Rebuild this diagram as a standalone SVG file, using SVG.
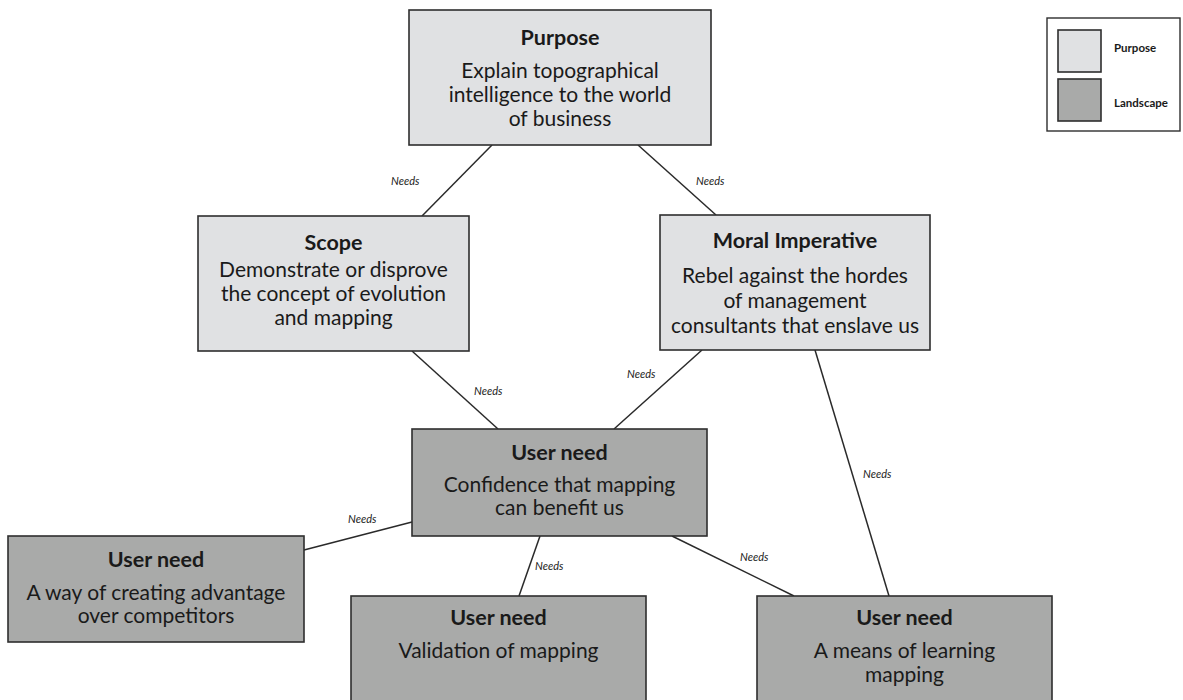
<svg xmlns="http://www.w3.org/2000/svg" width="1183" height="700" viewBox="0 0 1183 700">
<style>
.light{fill:#e0e1e3;stroke:#2e2e2e;stroke-width:1.6}
.dark{fill:#a9aaa9;stroke:#2e2e2e;stroke-width:1.6}
.t{font-family:Lato,"Liberation Sans",sans-serif;font-weight:bold;font-size:21.5px;fill:#1a1a1a;text-anchor:middle}
.b{font-family:Lato,"Liberation Sans",sans-serif;font-size:21px;fill:#1a1a1a;text-anchor:middle}
.n{font-family:Lato,"Liberation Sans",sans-serif;font-style:italic;font-size:11px;fill:#1a1a1a}
.lg{font-family:Lato,"Liberation Sans",sans-serif;font-weight:bold;font-size:11.5px;fill:#1a1a1a}
line{stroke:#2a2a2a;stroke-width:1.5}
</style>
<rect width="1183" height="700" fill="#ffffff"/>
<g id="connectors">
<line x1="492" y1="145" x2="422" y2="216"/>
<line x1="638" y1="145" x2="716" y2="215"/>
<line x1="412" y1="351" x2="498" y2="429"/>
<line x1="702" y1="350" x2="614" y2="429"/>
<line x1="815" y1="350" x2="889" y2="596"/>
<line x1="412" y1="522" x2="304" y2="550"/>
<line x1="540" y1="536" x2="519" y2="596"/>
<line x1="672" y1="536" x2="794" y2="596"/>
<text class="n" x="391" y="185">Needs</text>
<text class="n" x="696" y="185">Needs</text>
<text class="n" x="474" y="395">Needs</text>
<text class="n" x="627" y="378">Needs</text>
<text class="n" x="863" y="478">Needs</text>
<text class="n" x="348" y="523">Needs</text>
<text class="n" x="535" y="570">Needs</text>
<text class="n" x="740" y="561">Needs</text>
</g>
<g id="purpose">
<rect class="light" x="409" y="10" width="302" height="135"/>
<text class="t" x="560" y="45">Purpose</text>
<text class="b" x="560" y="78">Explain topographical</text>
<text class="b" x="560" y="102">intelligence to the world</text>
<text class="b" x="560" y="126">of business</text>
</g>
<g id="scope">
<rect class="light" x="198" y="216" width="271" height="135"/>
<text class="t" x="333.5" y="250">Scope</text>
<text class="b" x="333.5" y="277">Demonstrate or disprove</text>
<text class="b" x="333.5" y="301">the concept of evolution</text>
<text class="b" x="333.5" y="325">and mapping</text>
</g>
<g id="moral">
<rect class="light" x="660" y="215" width="270" height="135"/>
<text class="t" x="795" y="248">Moral Imperative</text>
<text class="b" x="795" y="283">Rebel against the hordes</text>
<text class="b" x="795" y="308">of management</text>
<text class="b" x="795" y="333">consultants that enslave us</text>
</g>
<g id="need-confidence">
<rect class="dark" x="412" y="429" width="295" height="107"/>
<text class="t" x="559.5" y="460">User need</text>
<text class="b" x="559.5" y="492">Confidence that mapping</text>
<text class="b" x="559.5" y="515">can benefit us</text>
</g>
<g id="need-advantage">
<rect class="dark" x="8" y="536" width="296" height="106"/>
<text class="t" x="156" y="567">User need</text>
<text class="b" x="156" y="600">A way of creating advantage</text>
<text class="b" x="156" y="623">over competitors</text>
</g>
<g id="need-validation">
<rect class="dark" x="351" y="596" width="295" height="115"/>
<text class="t" x="498.5" y="625">User need</text>
<text class="b" x="498.5" y="658">Validation of mapping</text>
</g>
<g id="need-learning">
<rect class="dark" x="757" y="596" width="295" height="115"/>
<text class="t" x="904.5" y="625">User need</text>
<text class="b" x="904.5" y="658">A means of learning</text>
<text class="b" x="904.5" y="682">mapping</text>
</g>
<g id="legend">
<rect x="1047" y="18" width="133" height="113" fill="#ffffff" stroke="#2e2e2e" stroke-width="1.4"/>
<rect class="light" x="1058" y="30" width="43" height="42"/>
<rect class="dark" x="1058" y="79" width="43" height="42"/>
<text class="lg" x="1114" y="52">Purpose</text>
<text class="lg" x="1114" y="107">Landscape</text>
</g>
</svg>
